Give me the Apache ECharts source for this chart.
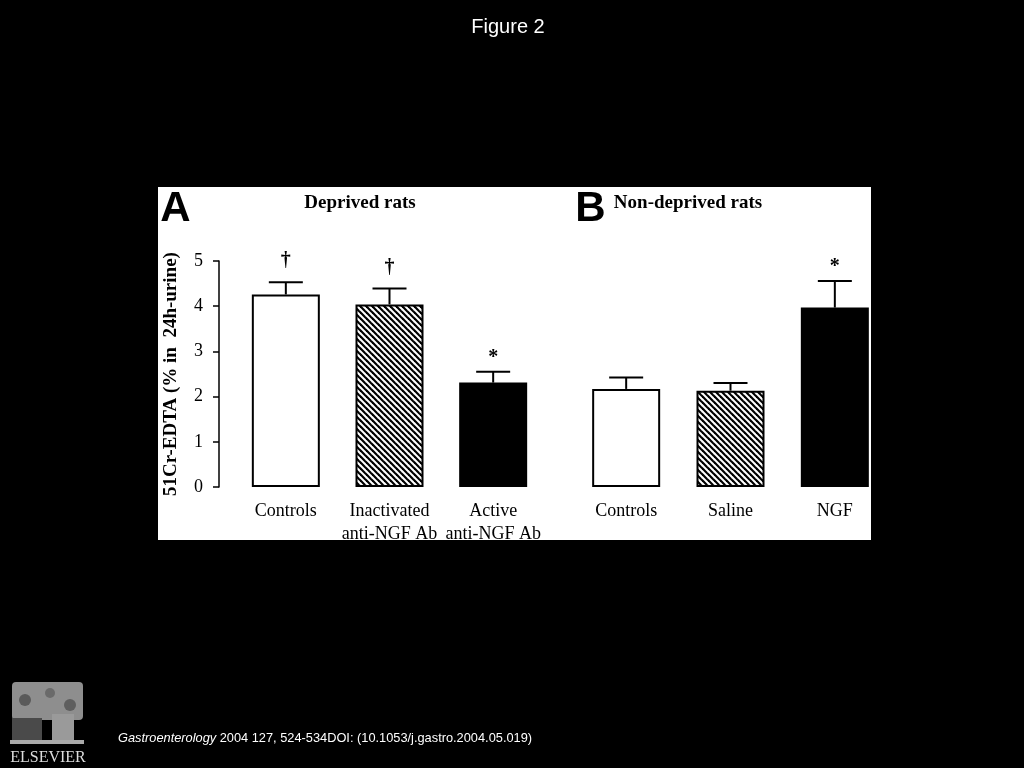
<!DOCTYPE html>
<html><head><meta charset="utf-8">
<script src="https://cdn.jsdelivr.net/npm/echarts@6/dist/echarts.min.js"></script>
<style>html,body{margin:0;padding:0;background:#000;}#c{width:1024px;height:768px;}</style>
</head><body><div id="c"></div>
<script>
// ---- data ----
const categoriesA = ['Controls', 'Inactivated\nanti-NGF Ab', 'Active\nanti-NGF Ab'];
const categoriesB = ['Controls', 'Saline', 'NGF'];
const meansA = [4.26, 4.04, 2.31];
const semA = [0.27, 0.35, 0.24];
const meansB = [2.17, 2.13, 3.97];
const semB = [0.25, 0.17, 0.59];
const marksA = ['\u2020', '\u2020', '*'];
const marksB = ['', '', '*'];
const yTicks = [0, 1, 2, 3, 4, 5];

// ---- styles ----
const SERIF = '"Liberation Serif", "Times New Roman", serif';
const SANS = '"Liberation Sans", Arial, sans-serif';

function hatchCanvas() {
  const s = 6;
  const c = document.createElement('canvas'); c.width = s; c.height = s;
  const g = c.getContext('2d');
  g.fillStyle = '#fff'; g.fillRect(0, 0, s, s);
  g.strokeStyle = '#000'; g.lineWidth = 2.2;
  for (const k of [-s, 0, s]) { g.beginPath(); g.moveTo(k - 1, -1); g.lineTo(k + s + 1, s + 1); g.stroke(); }
  return c;
}
const hatch = { image: hatchCanvas(), repeat: 'repeat' };
const fills = ['#fff', hatch, '#000'];

function barData(means) {
  return means.map((v, i) => ({ value: v, itemStyle: { color: fills[i], borderColor: '#000', borderWidth: 2 } }));
}
function errData(means, sems) {
  return means.map((v, i) => [i, v, v + sems[i]]);
}
function errRender(marks) {
  return function (params, api) {
    const i = params.dataIndex;
    const base = api.coord([api.value(0), api.value(1)]);
    const top = api.coord([api.value(0), api.value(2)]);
    const cap = 17;
    const children = [
      { type: 'line', shape: { x1: base[0], y1: base[1], x2: top[0], y2: top[1] }, style: { stroke: '#000', lineWidth: 2 } },
      { type: 'line', shape: { x1: top[0] - cap, y1: top[1], x2: top[0] + cap, y2: top[1] }, style: { stroke: '#000', lineWidth: 2 } }
    ];
    if (marks[i]) {
      children.push({ type: 'text', style: { text: marks[i], x: top[0], y: top[1] - (marks[i] === '*' ? 14 : 21),
        align: 'center', verticalAlign: 'middle', fontFamily: SERIF, fontWeight: 'bold', fontSize: 20, fill: '#000' } });
    }
    return { type: 'group', children };
  };
}

const yMin = yTicks[0], yMax = yTicks[yTicks.length - 1], yInt = yTicks[1] - yTicks[0];
const xLabel = { fontFamily: SERIF, fontSize: 18, color: '#000', margin: 13, lineHeight: 23, interval: 0 };

const chart = echarts.init(document.getElementById('c'), null, { renderer: 'canvas' });
chart.setOption({
  animation: false,
  backgroundColor: '#000',
  grid: [
    { left: 234, width: 311, top: 261, height: 226 },
    { left: 574, width: 313, top: 261, height: 226 }
  ],
  xAxis: [
    { type: 'category', gridIndex: 0, data: categoriesA, axisLine: { show: false }, axisTick: { show: false }, axisLabel: xLabel },
    { type: 'category', gridIndex: 1, data: categoriesB, axisLine: { show: false }, axisTick: { show: false }, axisLabel: xLabel }
  ],
  yAxis: [
    { type: 'value', gridIndex: 0, min: yMin, max: yMax, interval: yInt, offset: 15,
      axisLine: { show: true, lineStyle: { color: '#000', width: 1.5 } },
      axisTick: { show: true, length: 6, lineStyle: { color: '#000', width: 1.5 } },
      axisLabel: { fontFamily: SERIF, fontSize: 18, color: '#000', margin: 16 },
      splitLine: { show: false },
      name: '51Cr-EDTA (% in  24h-urine)', nameLocation: 'middle', nameGap: 38,
      nameTextStyle: { fontFamily: SERIF, fontSize: 19, fontWeight: 'bold', color: '#000' } },
    { type: 'value', gridIndex: 1, min: yMin, max: yMax, interval: yInt, show: false }
  ],
  series: [
    { type: 'bar', xAxisIndex: 0, yAxisIndex: 0, barWidth: 68, data: barData(meansA), z: 2 },
    { type: 'bar', xAxisIndex: 1, yAxisIndex: 1, barWidth: 68, data: barData(meansB), z: 2 },
    { type: 'custom', xAxisIndex: 0, yAxisIndex: 0, data: errData(meansA, semA), renderItem: errRender(marksA), z: 3, clip: false },
    { type: 'custom', xAxisIndex: 1, yAxisIndex: 1, data: errData(meansB, semB), renderItem: errRender(marksB), z: 3, clip: false }
  ],
  graphic: [
    { type: 'rect', z: -10, shape: { x: 158, y: 187, width: 713, height: 353 }, style: { fill: '#fff' } },
    { type: 'text', style: { text: 'Figure 2', x: 508, y: 27, align: 'center', verticalAlign: 'middle', fontFamily: SANS, fontSize: 20, fill: '#fff' } },
    { type: 'text', style: { text: 'A', x: 175.5, y: 209, align: 'center', verticalAlign: 'middle', fontFamily: SANS, fontWeight: 'bold', fontSize: 42, fill: '#000' } },
    { type: 'text', style: { text: 'B', x: 590.5, y: 209, align: 'center', verticalAlign: 'middle', fontFamily: SANS, fontWeight: 'bold', fontSize: 42, fill: '#000' } },
    { type: 'text', style: { text: 'Deprived rats', x: 360, y: 203, align: 'center', verticalAlign: 'middle', fontFamily: SERIF, fontWeight: 'bold', fontSize: 19, fill: '#000' } },
    { type: 'text', style: { text: 'Non-deprived rats', x: 688, y: 203, align: 'center', verticalAlign: 'middle', fontFamily: SERIF, fontWeight: 'bold', fontSize: 19, fill: '#000' } },
    { type: 'text', style: { text: '{i|Gastroenterology} 2004 127, 524-534DOI: (10.1053/j.gastro.2004.05.019)', x: 118, y: 738,
        align: 'left', verticalAlign: 'middle', fontFamily: SANS, fontSize: 12.8, fill: '#fff',
        rich: { i: { fontStyle: 'italic', fontFamily: SANS, fontSize: 12.8, fill: '#fff' } } } },
    // Elsevier logo (approximate)
    { type: 'group', children: [
      { type: 'rect', shape: { x: 12, y: 682, width: 71, height: 38, r: 4 }, style: { fill: '#8e8e8e' } },
      { type: 'circle', shape: { cx: 25, cy: 700, r: 6 }, style: { fill: '#5a5a5a' } },
      { type: 'circle', shape: { cx: 50, cy: 693, r: 5 }, style: { fill: '#6a6a6a' } },
      { type: 'circle', shape: { cx: 70, cy: 705, r: 6 }, style: { fill: '#5e5e5e' } },
      { type: 'rect', shape: { x: 12, y: 718, width: 30, height: 22 }, style: { fill: '#4a4a4a' } },
      { type: 'rect', shape: { x: 52, y: 714, width: 22, height: 28 }, style: { fill: '#9a9a9a' } },
      { type: 'rect', shape: { x: 10, y: 740, width: 74, height: 4 }, style: { fill: '#aaaaaa' } },
      { type: 'text', style: { text: 'ELSEVIER', x: 48, y: 758, align: 'center', verticalAlign: 'middle', fontFamily: SERIF, fontSize: 16, fill: '#ddd' } }
    ] }
  ]
});
</script>
</body></html>
